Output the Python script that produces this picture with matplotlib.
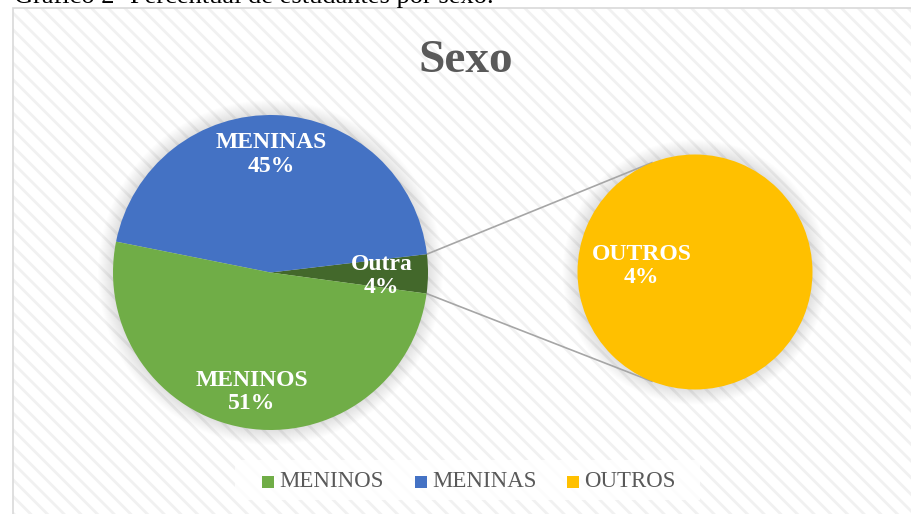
import matplotlib
matplotlib.use("Agg")
import matplotlib.pyplot as plt
from matplotlib.patches import Rectangle, Circle
import numpy as np

# ---- data ----
main_labels = ["Outra", "MENINAS", "MENINOS"]
main_values = [4, 45, 51]
main_colors = ["#43682B", "#4472C4", "#70AD47"]
sub_label = "OUTROS"
sub_value = [4]
sub_color = "#FFC000"
legend_labels = ["MENINOS", "MENINAS", "OUTROS"]
legend_colors = ["#70AD47", "#4472C4", "#FFC000"]
title = "Sexo"
caption = "Gráfico 2- Percentual de estudantes por sexo."

W, H = 911, 514
def Y(y):
    return H - y

plt.rcParams['hatch.linewidth'] = 2.0
serif = ['Liberation Serif', 'DejaVu Serif']

fig = plt.figure(figsize=(W / 100, H / 100), dpi=100)
ax = fig.add_axes([0, 0, 1, 1])

# chart area background (hatched) and border
ax.add_patch(Rectangle((13, -10), W + 20, Y(8) + 10, facecolor='white',
                       edgecolor='#F1F1F1', hatch='\\\\', linewidth=0, zorder=0))
ax.add_patch(Rectangle((13, -10), W + 20, Y(8) + 10, facecolor='none',
                       edgecolor='#D9D9D9', linewidth=1.2, zorder=1))

main_c = (270.5, Y(272.5)); main_r = 157.5
sub_c = (695.0, Y(272.0)); sub_r = 117.5

# soft shadows
for c, r in [(main_c, main_r), (sub_c, sub_r)]:
    for k in range(1, 16):
        ax.add_patch(Circle(c, r + k, facecolor='black', edgecolor='none',
                            alpha=0.008, zorder=2))

# main pie
start = -7.7
wedges, _ = ax.pie(main_values, colors=main_colors, startangle=start,
                   counterclock=True, center=main_c, radius=main_r,
                   wedgeprops=dict(linewidth=0))
for w in wedges:
    w.set_zorder(3)

# secondary pie
sw, _ = ax.pie(sub_value, colors=[sub_color], startangle=90,
               center=sub_c, radius=sub_r, wedgeprops=dict(linewidth=0))
for w in sw:
    w.set_zorder(3)

# connector lines
ow = wedges[0]
a1, a2 = np.deg2rad(ow.theta2), np.deg2rad(ow.theta1)
b1, b2 = np.deg2rad(111.5), np.deg2rad(-111.5)
for a, b in [(a1, b1), (a2, b2)]:
    p = (main_c[0] + main_r * np.cos(a), main_c[1] + main_r * np.sin(a))
    q = (sub_c[0] + sub_r * np.cos(b), sub_c[1] + sub_r * np.sin(b))
    ax.plot([p[0], q[0]], [p[1], q[1]], color='#A6A6A6', lw=1.2, zorder=2.5)

total = sum(main_values)
def pct(v):
    return f"{round(v / total * 100):d}%"

label_pos = {"MENINAS": (271.5, 154.5), "Outra": (381.5, 276), "MENINOS": (252, 392)}
for lab, val in zip(main_labels, main_values):
    x, y = label_pos[lab]
    ax.text(x, Y(y), f"{lab}\n{pct(val)}", ha='center', va='center', color='white',
            fontsize=17, fontweight='bold', family=serif, zorder=5, linespacing=1.15)
ax.text(641.5, Y(266), f"{sub_label}\n{pct(sub_value[0])}", ha='center', va='center',
        color='white', fontsize=17, fontweight='bold', family=serif, zorder=5,
        linespacing=1.15)

# title
ax.text(466, Y(72), title, ha='center', va='baseline', fontsize=34, fontweight='bold',
        color='#595959', family=serif, zorder=5)

# caption (cut off at top, as in the reference)
ax.text(14, Y(3.5), caption, ha='left', va='baseline', fontsize=19, color='black',
        family=serif, zorder=5)

# legend
ax.add_patch(Rectangle((235, Y(500)), 465, 40, facecolor='white', alpha=0.85,
                       edgecolor='none', zorder=4))
sq_x = [262.3, 415, 567.3]
for x, lab, col in zip(sq_x, legend_labels, legend_colors):
    ax.add_patch(Rectangle((x, Y(487.7)), 12, 12, facecolor=col, edgecolor='none', zorder=5))
    ax.text(x + 17, Y(481.5), lab, ha='left', va='center', fontsize=16.5,
            color='#595959', family=serif, zorder=5)

ax.set_xlim(0, W)
ax.set_ylim(0, H)
ax.set_aspect('auto')
ax.axis('off')

fig.savefig("out.png", dpi=100)
